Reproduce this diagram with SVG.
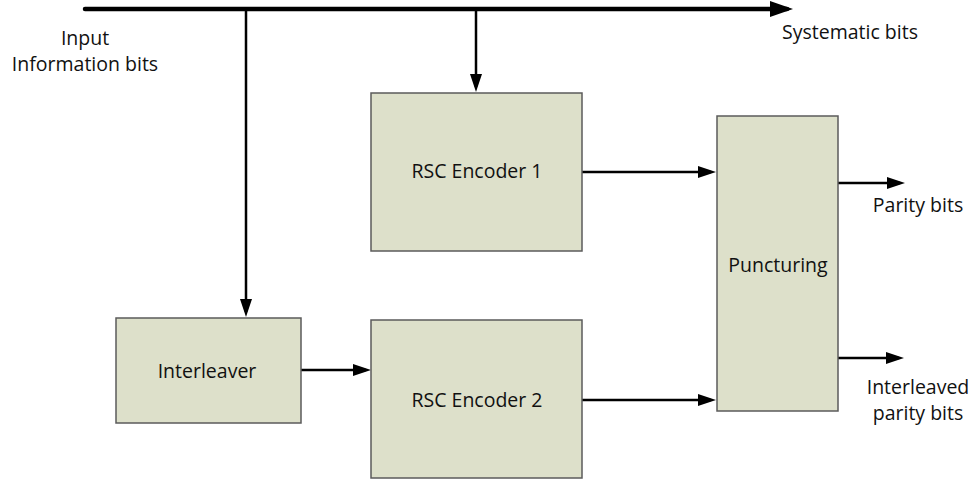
<svg xmlns="http://www.w3.org/2000/svg" width="976" height="481" viewBox="0 0 976 481">
<style>
.box{fill:#dde0ca;stroke:#5b5b5b;stroke-width:1.5}
.lbl{font-family:"Open Sans","Liberation Sans",sans-serif;font-size:19.5px;fill:#111;text-anchor:middle}
.conn{stroke:#000;stroke-width:2.5;fill:none}
.main{stroke:#000;stroke-width:4.5;fill:none;stroke-linecap:round}
</style>
<defs>
<marker id="ah" markerUnits="userSpaceOnUse" markerWidth="18" markerHeight="12" refX="13" refY="6" orient="auto">
<path d="M0,0 L18,6 L0,12 z" fill="#000"/>
</marker>
<marker id="ahBig" markerUnits="userSpaceOnUse" markerWidth="23" markerHeight="16" refX="17" refY="8" orient="auto">
<path d="M0,0 L23,8 L0,16 z" fill="#000"/>
</marker>
</defs>
<rect width="976" height="481" fill="#fff"/>
<g id="connectors">
<path class="main" d="M85,9 H787" marker-end="url(#ahBig)"/>
<path class="conn" d="M246,9 V312" marker-end="url(#ah)"/>
<path class="conn" d="M476,9 V87" marker-end="url(#ah)"/>
<path class="conn" d="M582,172 H711" marker-end="url(#ah)"/>
<path class="conn" d="M301,370 H366" marker-end="url(#ah)"/>
<path class="conn" d="M582,400 H711" marker-end="url(#ah)"/>
<path class="conn" d="M838,183 H900" marker-end="url(#ah)"/>
<path class="conn" d="M838,358 H899" marker-end="url(#ah)"/>
</g>
<g id="input-label">
<text class="lbl" x="85" y="45">Input</text>
<text class="lbl" x="85" y="71">Information bits</text>
</g>
<g id="systematic-label"><text class="lbl" x="850" y="39">Systematic bits</text></g>
<g id="rsc1">
<rect class="box" x="371" y="93" width="211" height="158"/>
<text class="lbl" x="477" y="178">RSC Encoder 1</text>
</g>
<g id="interleaver">
<rect class="box" x="116" y="318" width="185" height="105"/>
<text class="lbl" x="207" y="378">Interleaver</text>
</g>
<g id="rsc2">
<rect class="box" x="371" y="320" width="211" height="158"/>
<text class="lbl" x="477" y="407">RSC Encoder 2</text>
</g>
<g id="puncturing">
<rect class="box" x="717" y="116" width="121" height="295"/>
<text class="lbl" x="778" y="272">Puncturing</text>
</g>
<g id="parity-label"><text class="lbl" x="918" y="212">Parity bits</text></g>
<g id="interleaved-label">
<text class="lbl" x="918" y="394">Interleaved</text>
<text class="lbl" x="918" y="420">parity bits</text>
</g>
</svg>
